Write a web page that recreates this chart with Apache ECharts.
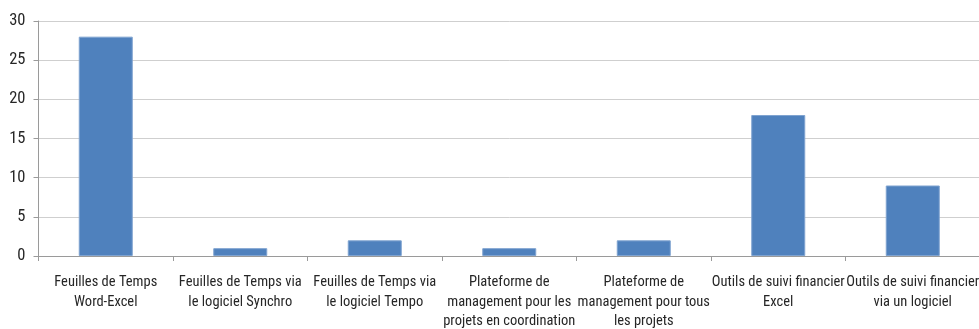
<!DOCTYPE html>
<html>
<head>
<meta charset="utf-8">
<script src="https://cdn.jsdelivr.net/npm/echarts@6/dist/echarts.min.js"></script>
<style>
  html, body { margin: 0; padding: 0; background: #ffffff; }
  #chart { width: 979px; height: 329px; }
</style>
</head>
<body>
<div id="chart"></div>
<script>
// Outils utilisés pour le suivi des temps et des finances
const categories = [
  'Feuilles de Temps\nWord-Excel',
  'Feuilles de Temps via\nle logiciel Synchro',
  'Feuilles de Temps via\nle logiciel Tempo',
  'Plateforme de\nmanagement pour les\nprojets en coordination',
  'Plateforme de\nmanagement pour tous\nles projets',
  'Outils de suivi financier\nExcel',
  'Outils de suivi financier\nvia un logiciel'
];
const counts = [28, 1, 2, 1, 2, 18, 9];
const yTicks = { min: 0, max: 30, step: 5 };

const font = '"Roboto Condensed", "Liberation Sans", Arial, sans-serif';

const chart = echarts.init(document.getElementById('chart'), null, { renderer: 'canvas' });
chart.setOption({
  animation: false,
  backgroundColor: '#ffffff',
  grid: {
    left: 38.5, right: -1, top: 21, bottom: 73,
    containLabel: false,
    outerBoundsMode: 'none'
  },
  xAxis: {
    type: 'category',
    data: categories,
    axisLine: { lineStyle: { color: '#9a9a9a', width: 1 } },
    axisTick: { show: true, alignWithLabel: false, length: 5, lineStyle: { color: '#9a9a9a' } },
    axisLabel: {
      interval: 0,
      color: '#262626',
      fontFamily: font,
      fontSize: 14.5,
      lineHeight: 19.5,
      margin: 17
    }
  },
  yAxis: {
    type: 'value',
    min: yTicks.min,
    max: yTicks.max,
    interval: yTicks.step,
    axisLine: { show: true, lineStyle: { color: '#9a9a9a', width: 1 } },
    axisTick: { show: true, length: 5, lineStyle: { color: '#9a9a9a' } },
    splitLine: { show: true, lineStyle: { color: '#cfcfcf', width: 1 } },
    axisLabel: {
      color: '#262626',
      fontFamily: font,
      fontSize: 16.5,
      margin: 13
    }
  },
  series: [{
    type: 'bar',
    data: counts,
    barWidth: 54,
    itemStyle: { color: '#4f81bd', borderColor: '#7fa3d0', borderWidth: 1 }
  }]
});
</script>
</body>
</html>
